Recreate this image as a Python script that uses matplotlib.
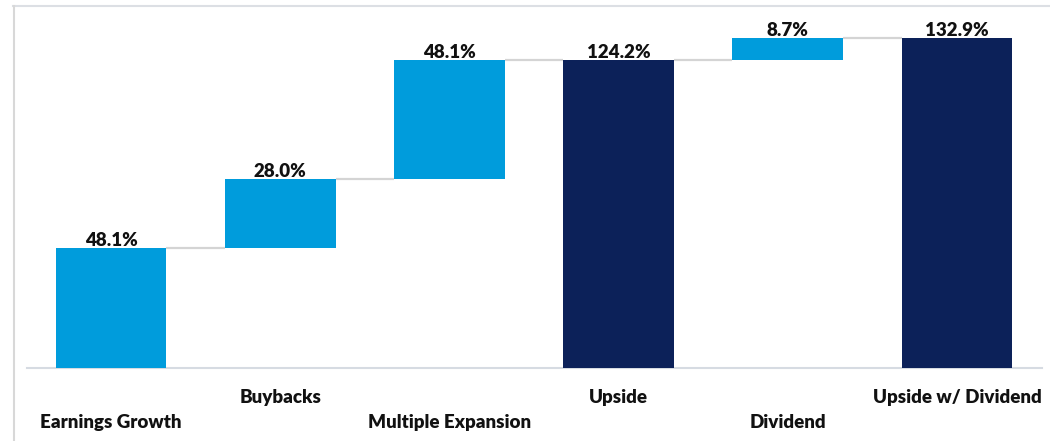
import matplotlib.pyplot as plt
from matplotlib.lines import Line2D

# waterfall data
categories = ['Earnings Growth', 'Buybacks', 'Multiple Expansion', 'Upside', 'Dividend', 'Upside w/ Dividend']
values = [48.1, 28.0, 48.1, 124.2, 8.7, 132.9]
is_total = [False, False, False, True, False, True]

light_blue = '#009cdc'
navy = '#0c2159'

plt.rcParams['font.family'] = ['Lato', 'DejaVu Sans']

fig = plt.figure(figsize=(10.5, 4.41), dpi=100)
ax = fig.add_axes([26.5 / 1050, 73.5 / 441, 1015 / 1050, 361.5 / 441])

bottoms = []
tops = []
running = 0.0
for v, tot in zip(values, is_total):
    if tot:
        bottoms.append(0.0)
        running = v
    else:
        bottoms.append(running)
        running += v
    tops.append(running)

width = 0.655
colors = [navy if t else light_blue for t in is_total]
x = list(range(len(categories)))
ax.bar(x, values, bottom=bottoms, width=width, color=colors, zorder=3)

# connectors between bars
for i in range(len(x) - 1):
    ax.plot([x[i] + width / 2, x[i + 1] - width / 2], [tops[i], tops[i]],
            color='#d4d4d4', lw=1.6, zorder=2, solid_capstyle='butt')

# value labels
for i, v in enumerate(values):
    ax.annotate(f'{v:.1f}%', (x[i], tops[i]), xytext=(0, -0.5), textcoords='offset points',
                ha='center', va='bottom', fontsize=13.5, fontweight='heavy', color='#111111',
                zorder=4)

# staggered category labels
for i, c in enumerate(categories):
    off = -21.5 if i % 2 else -39.5
    ax.annotate(c, (x[i], 0), xycoords=('data', 'axes fraction'), xytext=(0, off),
                textcoords='offset points', ha='center', va='center',
                fontsize=13.5, fontweight='heavy', color='#111111', annotation_clip=False)

ax.set_xlim(-0.5, 5.5)
ax.set_ylim(0, 146)
for s in ['top', 'right', 'left']:
    ax.spines[s].set_visible(False)
ax.spines['bottom'].set_color('#d6dbe2')
ax.spines['bottom'].set_linewidth(1.5)
ax.set_xticks([])
ax.set_yticks([])

# outer frame
fig.add_artist(Line2D([13 / 1050, 1], [1 - 6 / 441, 1 - 6 / 441], color='#dcdfe4', lw=1.5))
fig.add_artist(Line2D([14 / 1050, 14 / 1050], [0, 1 - 6 / 441], color='#d8d8d8', lw=1.5))

fig.savefig('out.png', dpi=100)
